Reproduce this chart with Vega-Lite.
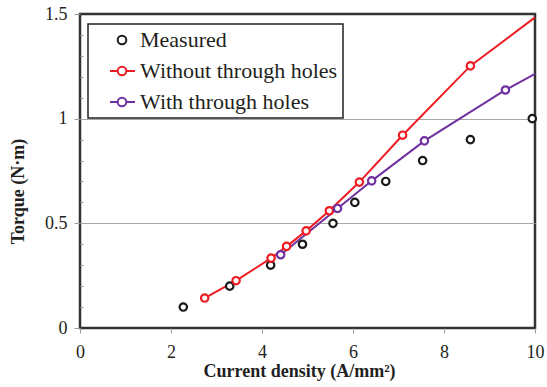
{
  "$schema": "https://vega.github.io/schema/vega-lite/v6.json",
  "width": 455,
  "height": 314,
  "autosize": {"type": "none"},
  "padding": {"left": 80, "top": 14, "right": 12, "bottom": 59},
  "background": "white",
  "datasets": {
    "curve": [
      {"density": 2.74, "torque": 0.143, "series": "Without through holes"},
      {"density": 3.43, "torque": 0.226, "series": "Without through holes"},
      {"density": 4.2, "torque": 0.334, "series": "Without through holes"},
      {"density": 4.54, "torque": 0.39, "series": "Without through holes"},
      {"density": 4.97, "torque": 0.464, "series": "Without through holes"},
      {"density": 5.48, "torque": 0.56, "series": "Without through holes"},
      {"density": 6.14, "torque": 0.697, "series": "Without through holes"},
      {"density": 7.09, "torque": 0.921, "series": "Without through holes"},
      {"density": 8.58, "torque": 1.252, "series": "Without through holes"},
      {"density": 10.0, "torque": 1.484, "series": "Without through holes"},
      {"density": 4.41, "torque": 0.35, "series": "With through holes"},
      {"density": 5.66, "torque": 0.571, "series": "With through holes"},
      {"density": 6.41, "torque": 0.703, "series": "With through holes"},
      {"density": 7.57, "torque": 0.894, "series": "With through holes"},
      {"density": 9.35, "torque": 1.137, "series": "With through holes"},
      {"density": 10.0, "torque": 1.214, "series": "With through holes"}
    ],
    "points": [
      {"density": 2.27, "torque": 0.1, "series": "Measured"},
      {"density": 3.29, "torque": 0.2, "series": "Measured"},
      {"density": 4.19, "torque": 0.3, "series": "Measured"},
      {"density": 4.89, "torque": 0.4, "series": "Measured"},
      {"density": 5.56, "torque": 0.5, "series": "Measured"},
      {"density": 6.04, "torque": 0.6, "series": "Measured"},
      {"density": 6.72, "torque": 0.7, "series": "Measured"},
      {"density": 7.53, "torque": 0.8, "series": "Measured"},
      {"density": 8.58, "torque": 0.9, "series": "Measured"},
      {"density": 9.94, "torque": 1.0, "series": "Measured"},
      {"density": 2.74, "torque": 0.143, "series": "Without through holes"},
      {"density": 3.43, "torque": 0.226, "series": "Without through holes"},
      {"density": 4.2, "torque": 0.334, "series": "Without through holes"},
      {"density": 4.54, "torque": 0.39, "series": "Without through holes"},
      {"density": 4.97, "torque": 0.464, "series": "Without through holes"},
      {"density": 5.48, "torque": 0.56, "series": "Without through holes"},
      {"density": 6.14, "torque": 0.697, "series": "Without through holes"},
      {"density": 7.09, "torque": 0.921, "series": "Without through holes"},
      {"density": 8.58, "torque": 1.252, "series": "Without through holes"},
      {"density": 4.41, "torque": 0.35, "series": "With through holes"},
      {"density": 5.66, "torque": 0.571, "series": "With through holes"},
      {"density": 6.41, "torque": 0.703, "series": "With through holes"},
      {"density": 7.57, "torque": 0.894, "series": "With through holes"},
      {"density": 9.35, "torque": 1.137, "series": "With through holes"}
    ]
  },
  "config": {
    "view": {"stroke": "#333333", "strokeWidth": 2.5},
    "font": "Liberation Serif",
    "axis": {
      "domain": false,
      "labelFont": "Liberation Serif",
      "labelFontSize": 18,
      "labelColor": "#231f20",
      "titleFont": "Liberation Serif",
      "titleFontSize": 18,
      "titleFontWeight": "bold",
      "titleColor": "#231f20",
      "tickColor": "#9a9a9a",
      "tickWidth": 1
    }
  },
  "encoding": {
    "x": {
      "field": "density",
      "type": "quantitative",
      "scale": {"domain": [0, 10], "nice": false},
      "axis": {
        "title": "Current  density (A/mm²)",
        "values": [0, 2, 4, 6, 8, 10],
        "grid": false,
        "tickSize": 5,
        "labelPadding": 10,
        "titlePadding": 1,
        "titleX": 219,
        "labelFlush": false
      }
    },
    "y": {
      "field": "torque",
      "type": "quantitative",
      "scale": {"domain": [0, 1.5], "nice": false},
      "axis": {
        "title": "Torque  (N·m)",
        "values": [0, 0.1, 0.2, 0.3, 0.4, 0.5, 0.6, 0.7, 0.8, 0.9, 1, 1.1, 1.2, 1.3, 1.4, 1.5],
        "labelExpr": "(datum.value == 0 || datum.value == 0.5 || datum.value == 1 || datum.value == 1.5) ? toString(datum.value) : ''",
        "tickSize": {"condition": {"test": "datum.value == 0 || datum.value == 0.5 || datum.value == 1 || datum.value == 1.5", "value": 6}, "value": -3},
        "grid": true,
        "gridColor": "#a6a6a6",
        "gridWidth": 1,
        "gridOpacity": {"condition": {"test": "datum.value == 0.5 || datum.value == 1", "value": 1}, "value": 0},
        "labelPadding": 7,
        "titlePadding": 17,
        "titleY": 177,
        "labelFlush": false
      }
    },
    "color": {
      "field": "series",
      "type": "nominal",
      "scale": {
        "domain": ["Measured", "Without through holes", "With through holes"],
        "range": ["#1a1a1a", "#ed1c24", "#7030a0"]
      },
      "legend": {
        "orient": "none",
        "legendX": 8,
        "legendY": 10,
        "title": null,
        "padding": 5,
        "strokeColor": "#231f20",
        "fillColor": "white",
        "symbolType": "circle",
        "symbolSize": 400,
        "symbolStrokeWidth": 2,
        "symbolOffset": 18,
        "labelOffset": 7,
        "labelFont": "Liberation Serif",
        "labelFontSize": 22,
        "labelColor": "#231f20",
        "labelLimit": 400,
        "rowPadding": 9,
        "encode": {
          "symbols": {
            "update": {
              "shape": {"signal": "datum.value === 'Measured' ? 'M0.43,0A0.43,0.43,0,1,1,-0.43,0A0.43,0.43,0,1,1,0.43,0Z' : 'M-1.2,0L-0.43,0M0.43,0L1.3,0M0.43,0A0.43,0.43,0,1,1,-0.43,0A0.43,0.43,0,1,1,0.43,0Z'"},
              "fill": {"value": "white"},
              "strokeWidth": {"value": 2},
              "opacity": {"value": 1}
            }
          },
          "legend": {"update": {"strokeWidth": {"value": 1.5}}}
        }
      }
    }
  },
  "layer": [
    {
      "data": {"name": "curve"},
      "mark": {"type": "line", "strokeWidth": 2, "interpolate": "linear"}
    },
    {
      "data": {"name": "points"},
      "mark": {"type": "point", "filled": false, "fill": "white", "size": 55, "strokeWidth": 2.2, "opacity": 1}
    }
  ]
}
